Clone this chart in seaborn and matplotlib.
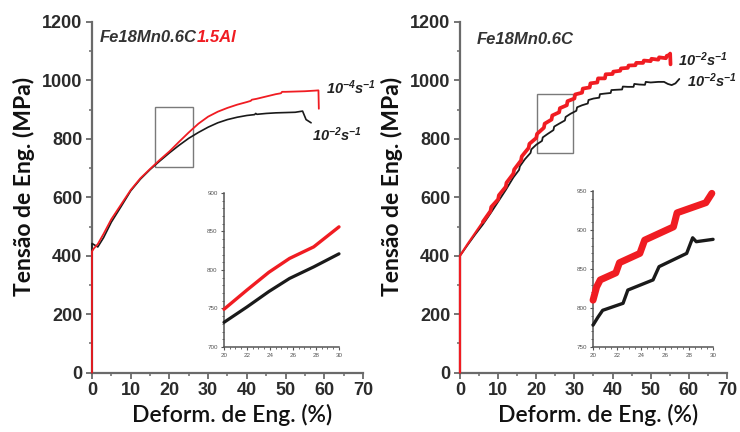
import matplotlib
matplotlib.use("Agg")
import matplotlib.pyplot as plt
import seaborn as sns
import pandas as pd
from matplotlib.ticker import MultipleLocator
from matplotlib.patches import Rectangle

# ---------------- data ----------------
# Left panel: Fe18Mn0.6C1.5Al
left_red_x = [0, 0, 0.5, 1.5, 3, 5, 7.5, 10, 12.5, 15, 17.5, 20, 22.5, 25, 27.5, 30, 32.5, 35, 37.5,
              40, 41, 41.3, 42.5, 45, 47.5, 48.8, 49.1, 50, 52.5, 55, 57.5, 58.5, 58.6]
left_red_y = [0, 415, 425, 440, 475, 525, 575, 625, 665, 697, 728, 757, 790, 822, 852, 876, 893, 906, 917,
              926, 930, 934, 937, 945, 953, 956, 961, 961, 962, 963, 965, 966, 903]
left_blk_x = [0, 0, 1.5, 3, 5, 7.5, 10, 12.5, 15, 17.5, 20, 22.5, 25, 27.5, 30, 32.5, 35, 37.5, 40,
              42, 42.3, 42.6, 45, 47.5, 50, 52.5, 54.4, 55.3, 56.6]
left_blk_y = [0, 442, 430, 462, 515, 568, 622, 662, 695, 724, 752, 778, 802, 822, 840, 855, 866, 874, 880,
              883, 887, 884, 887, 889, 890, 891, 895, 866, 855]

# Left inset (zoom 20-30 %)
inL_x = [20, 22, 23.9, 25.7, 27.8, 30]
inL_red = [749, 774, 797, 815, 830, 856]
inL_blk = [732, 752, 772, 789, 804, 821]

# Right panel: Fe18Mn0.6C (serrated curves)
right_red_x = [0, 0, 2, 4, 6, 8, 8.2, 10, 10.2, 12, 12.2, 14, 14.2, 16, 16.2, 18, 18.2, 20, 20.2,
               22, 22.2, 24, 24.2, 26, 26.2, 28, 28.2, 30, 30.2, 32, 32.2, 34, 34.2, 36, 36.2,
               38, 38.2, 40, 40.2, 42, 42.2, 44, 44.2, 46, 46.2, 48, 48.2, 50, 50.2, 52, 52.2,
               54, 54.2, 55, 55.1, 55.2]
right_red_y = [0, 400, 440, 478, 516, 553, 567, 593, 607, 636, 650, 681, 695, 726, 740, 769, 783, 803, 817,
               838, 852, 866, 880, 891, 905, 915, 929, 938, 952, 958, 972, 976, 990, 993, 1007,
               1007, 1021, 1022, 1030, 1033, 1041, 1043, 1051, 1052, 1060, 1060, 1068, 1066, 1074, 1071, 1079,
               1076, 1084, 1088, 1092, 1055]
right_blk_x = [0, 0, 2, 4, 6, 8, 10, 12, 14, 15.5, 15.7, 17, 18.5, 18.7, 20, 21.5, 21.7, 23, 24.5, 24.7,
               26, 27.5, 27.7, 29, 30.5, 30.7, 32, 33.5, 33.7, 35, 36.5, 36.7, 38, 39.5, 39.7, 41,
               42.5, 42.7, 44, 45.5, 45.7, 47, 48.5, 48.7, 50, 52, 53.5, 54.5, 55.5, 56.5, 57.5]
right_blk_y = [0, 400, 437, 473, 507, 545, 585, 625, 668, 694, 706, 730, 752, 764, 780, 793, 805, 817, 830, 842,
               852, 863, 875, 886, 896, 908, 915, 921, 933, 938, 941, 953, 955, 957, 967, 968,
               969, 979, 978, 978, 988, 986, 985, 995, 993, 995, 995, 988, 984, 990, 1005]

# Right inset (zoom 20-30 %)
inR_red_x = [20, 20.3, 20.6, 21.9, 22.2, 23.9, 24.3, 26.7, 27, 29.4, 29.9]
inR_red_y = [810, 827, 836, 845, 858, 870, 887, 904, 922, 935, 947]
inR_blk_x = [20, 20.4, 20.8, 22.5, 22.9, 25, 25.5, 27.8, 28.3, 28.6, 30]
inR_blk_y = [778, 788, 797, 806, 823, 836, 853, 870, 890, 885, 888]

# zoom boxes (x0, x1, y0, y1)
boxL = [16.3, 26.2, 705, 910]
boxR = [20.1, 29.7, 752, 952]

x_ticks = [0, 10, 20, 30, 40, 50, 60, 70]
y_ticks = [0, 200, 400, 600, 800, 1000, 1200]
inL_xticks = [20, 22, 24, 26, 28, 30]
inL_yticks = [700, 750, 800, 850, 900]
inR_xticks = [20, 22, 24, 26, 28, 30]
inR_yticks = [750, 800, 850, 900, 950]

RED = "#f01c22"
BLK = "#1a1a1a"
SPINE = "#6a6a6a"
TXT = "#2b2b2b"

# ---------------- style ----------------
sns.set_style("ticks")
plt.rcParams["font.family"] = ["Liberation Sans", "DejaVu Sans"]
plt.rcParams["mathtext.fontset"] = "custom"
plt.rcParams["mathtext.rm"] = "Liberation Sans:bold:italic"
plt.rcParams["mathtext.it"] = "Liberation Sans:bold:italic"
plt.rcParams["mathtext.bf"] = "Liberation Sans:bold:italic"

fig = plt.figure(figsize=(7.4, 4.32), dpi=100)
axL = fig.add_axes([0.1243, 0.1375, 0.3662, 0.8116])
axR = fig.add_axes([0.6216, 0.1375, 0.3608, 0.8116])
insL = fig.add_axes([0.3027, 0.1968, 0.1554, 0.3565])
insR = fig.add_axes([0.8014, 0.1968, 0.1622, 0.3611])


def line(ax, x, y, color, lw):
    df = pd.DataFrame({"x": x, "y": y})
    sns.lineplot(data=df, x="x", y="y", ax=ax, color=color, lw=lw, sort=False, estimator=None,
                 zorder=3, clip_on=False, solid_joinstyle="round")


# main panels
line(axL, left_blk_x, left_blk_y, BLK, 1.2)
line(axL, left_red_x, left_red_y, RED, 1.3)
line(axR, right_blk_x, right_blk_y, BLK, 1.3)
line(axR, right_red_x[:6], right_red_y[:6], RED, 1.6)
line(axR, right_red_x[4:], right_red_y[4:], RED, 2.7)

for ax, box in ((axL, boxL), (axR, boxR)):
    ax.add_patch(Rectangle((box[0], box[2]), box[1] - box[0], box[3] - box[2],
                           fill=False, ec="#7a7a7a", lw=1.0))

for ax, lx, ly in ((axL, -0.21, 0.53), (axR, -0.213, 0.53)):
    ax.set_xlim(0, 70)
    ax.set_ylim(0, 1200)
    ax.set_xticks(x_ticks)
    ax.set_yticks(y_ticks)
    ax.xaxis.set_minor_locator(MultipleLocator(5))
    ax.yaxis.set_minor_locator(MultipleLocator(100))
    sns.despine(ax=ax)
    for s in ("left", "bottom"):
        ax.spines[s].set_color(SPINE)
        ax.spines[s].set_linewidth(1.6)
    ax.tick_params(which="major", length=4, width=1.3, color=SPINE, labelsize=13,
                   labelcolor=TXT, direction="out", pad=3)
    ax.tick_params(which="minor", length=2.5, width=1.1, color=SPINE, direction="out")
    for lab in ax.get_xticklabels() + ax.get_yticklabels():
        lab.set_fontweight("bold")
    ax.set_xlabel("Deform. de Eng. (%)", fontsize=16.5, family=["Lato", "DejaVu Sans"],
                  fontweight="semibold", color="#111111")
    ax.set_ylabel("Tensão de Eng. (MPa)", fontsize=16.5, family=["Lato", "DejaVu Sans"],
                  fontweight="bold", color="#111111")
    ax.xaxis.set_label_coords(0.517, -0.088)
    ax.yaxis.set_label_coords(lx, ly)
    ax.patch.set_alpha(0)

# titles
tL = axL.text(2.1, 1148, "Fe18Mn0.6C", fontsize=12, fontweight="bold", fontstyle="italic",
              color="#333333", va="center", ha="left")
axL.annotate("1.5Al", xy=(1, 0.5), xycoords=tL, va="center", ha="left", fontsize=12,
             fontweight="bold", fontstyle="italic", color=RED)
axR.text(4.5, 1140, "Fe18Mn0.6C", fontsize=12, fontweight="bold", fontstyle="italic",
         color="#333333", va="center", ha="left")

# strain-rate labels
rate_kw = dict(fontsize=10.5, color="#222222", va="center", ha="left")
axL.text(60.4, 975, r"$\mathrm{10^{-4}s^{-1}}$", **rate_kw)
axL.text(56.9, 815, r"$\mathrm{10^{-2}s^{-1}}$", **rate_kw)
axR.text(57.2, 1071, r"$\mathrm{10^{-2}s^{-1}}$", **rate_kw)
axR.text(59.5, 1000, r"$\mathrm{10^{-2}s^{-1}}$", **rate_kw)

# insets
line(insL, inL_x, inL_blk, BLK, 2.3)
line(insL, inL_x, inL_red, RED, 2.4)
line(insR, inR_blk_x, inR_blk_y, BLK, 2.4)
line(insR, inR_red_x, inR_red_y, RED, 5.0)

for ins, xt, yt in ((insL, inL_xticks, inL_yticks), (insR, inR_xticks, inR_yticks)):
    ins.set_xlim(xt[0], xt[-1])
    ins.set_ylim(yt[0], yt[-1])
    ins.set_xticks(xt)
    ins.set_yticks(yt)
    ins.xaxis.set_minor_locator(MultipleLocator(0.5))
    ins.yaxis.set_minor_locator(MultipleLocator(10))
    sns.despine(ax=ins)
    for s in ("left", "bottom"):
        ins.spines[s].set_color("#555555")
        ins.spines[s].set_linewidth(1.1)
    ins.tick_params(which="major", length=2.5, width=0.8, color="#555555", labelsize=4.5,
                    labelcolor="#555555", pad=2)
    ins.tick_params(which="minor", length=1.5, width=0.6, color="#555555")
    ins.set_xlabel("")
    ins.set_ylabel("")
    ins.patch.set_alpha(0)

fig.savefig("out.png", dpi=100)
